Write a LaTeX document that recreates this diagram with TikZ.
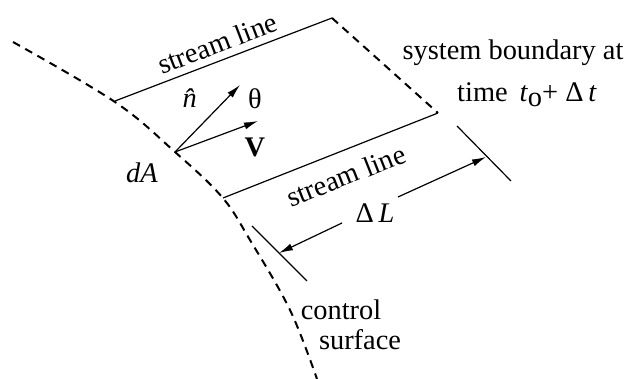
\documentclass[tikz,border=0pt]{standalone}
\usepackage{fontspec}
\setmainfont{Liberation Serif}
\usetikzlibrary{arrows.meta}

\begin{document}
\begin{tikzpicture}[x=0.5pt,y=-0.5pt]
\useasboundingbox (0,0) rectangle (629,379);
\begin{scope}[>={Latex[length=7pt,width=3.6pt]}, line width=0.6pt, font=\fontsize{14.2}{17}\selectfont]

\coordinate (P1) at (115,101);
\coordinate (P2) at (332,18);
\coordinate (P3) at (438,113);
\coordinate (P4) at (223,198);
\coordinate (O) at (175,152);
\coordinate (n) at (240,85);
\coordinate (V) at (258,121);

% control surface
\draw[line width=1pt, dash pattern=on 4pt off 3pt] plot[smooth, tension=0.6]
  coordinates {(13,42) (115,102) (175,152) (222,197) (250,240) (290,310) (317,379)};

% system boundary
\draw (P1) -- node[pos=0.5, above, sloped] {stream line} (P2);
\draw[line width=1pt, dash pattern=on 4pt off 3pt] (P2) -- (P3);
\draw (P4) -- node[pos=0.53, below=3.5pt, sloped] {stream line} (P3);

\draw[->] (O) -- (n);
\draw[->] (O) -- (V);

\node (nhat) at (195,98) {\textit{\^n}};
\node (theta) at (255,99) {θ};
\node (vel) at (255,147) {\textbf{V}};
\node (dA) at (142,173) {\textit{dA}};

\node (sb1) at (513,53) {system boundary at};
\node (sb2) at (527,95) {time \,\textit{t}\raisebox{-0.35ex}{o}+ Δ\,\textit{t}};

% Delta L
\coordinate (T1a) at (252,226);
\coordinate (T1b) at (307,281);
\coordinate (T2a) at (457,126);
\coordinate (T2b) at (511,181);
\coordinate (D1) at (279,253);
\coordinate (D2) at (486,157);
\coordinate (G1) at (342,223);
\coordinate (G2) at (398,197);
\draw (T1a) -- (T1b);
\draw (T2a) -- (T2b);
\draw[->] (G1) -- (D1);
\draw[->] (G2) -- (D2);
\node (dL) at (375,213) {Δ\,\textit{L}};

\node (cs1) at (341,310) {control};
\node (cs2) at (360,340) {surface};

\end{scope}
\end{tikzpicture}
\end{document}
